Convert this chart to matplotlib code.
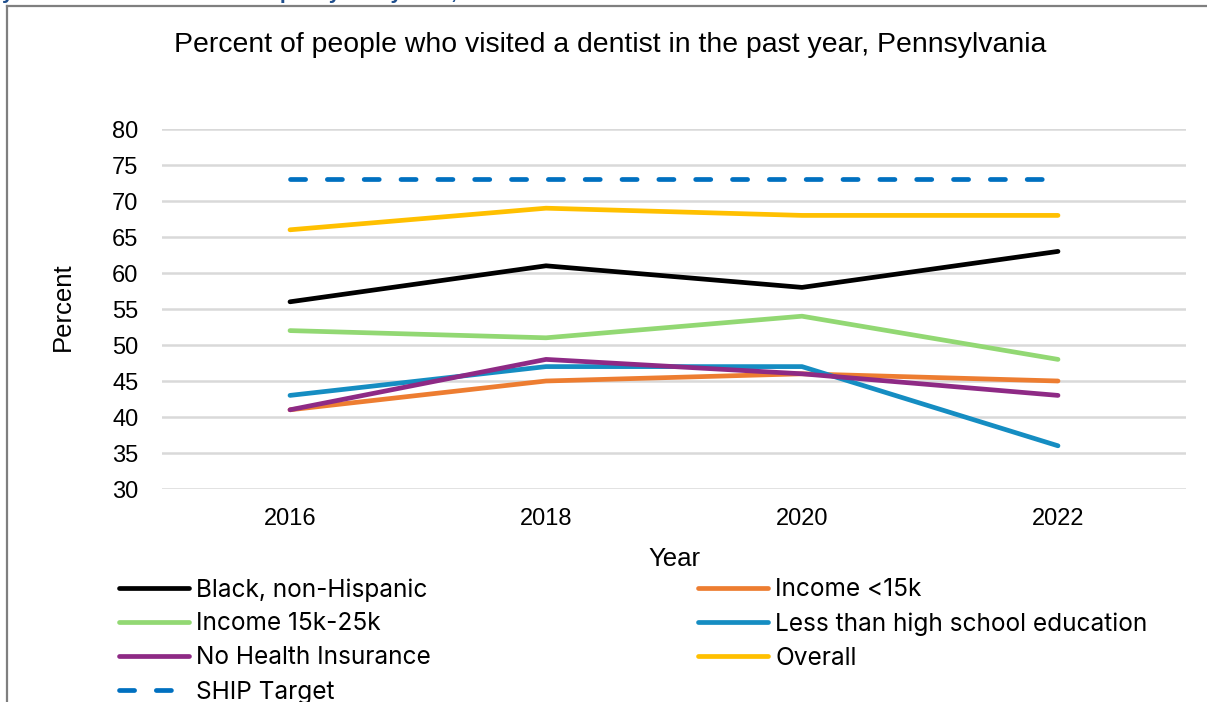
import matplotlib
matplotlib.use("Agg")
import matplotlib.pyplot as plt
from matplotlib.lines import Line2D

years = ["2016", "2018", "2020", "2022"]
black_nh = [56, 61, 58, 63]
income_lt15k = [41, 45, 46, 45]
income_15_25k = [52, 51, 54, 48]
less_than_hs = [43, 47, 47, 36]
no_insurance = [41, 48, 46, 43]
overall = [66, 69, 68, 68]
ship_target = [73, 73, 73, 73]

yticks = [30, 35, 40, 45, 50, 55, 60, 65, 70, 75, 80]

W, H = 1207, 702
fig = plt.figure(figsize=(W / 100, H / 100), dpi=100)
ax = fig.add_axes([162 / W, 1 - 489 / H, (1186 - 162) / W, (489 - 129) / H])

x = list(range(len(years)))
lw = 3.4
series = [
    ("Black, non-Hispanic", black_nh, "#000000", "-"),
    ("Income <15k", income_lt15k, "#ED7D31", "-"),
    ("Income 15k-25k", income_15_25k, "#92D873", "-"),
    ("Less than high school education", less_than_hs, "#158DC2", "-"),
    ("No Health Insurance", no_insurance, "#8E2A85", "-"),
    ("Overall", overall, "#FFC000", "-"),
    ("SHIP Target", ship_target, "#0070C0", "--"),
]
handles = {}
for name, vals, col, ls in series:
    if ls == "--":
        (ln,) = ax.plot(x, vals, color=col, lw=lw, dash_capstyle="round", solid_capstyle="round", zorder=3)
        ln.set_dashes([3.2, 4.6])
    else:
        (ln,) = ax.plot(x, vals, color=col, lw=lw, solid_capstyle="round", solid_joinstyle="round", zorder=3)
    handles[name] = ln

ax.set_xlim(-0.5, 3.5)
ax.set_ylim(30, 80)
ax.set_yticks(yticks)
ax.set_xticks(x)
ax.set_xticklabels(years)
ax.grid(axis="y", color="#D9D9D9", lw=1.8, zorder=0)
for s in ax.spines.values():
    s.set_visible(False)
ax.tick_params(length=0, labelsize=17, colors="#000000")
ax.tick_params(axis="y", pad=17)
ax.tick_params(axis="x", pad=14)
for lab in ax.get_xticklabels() + ax.get_yticklabels():
    lab.set_family("Liberation Sans")

fig.text(610 / W, 1 - 45.5 / H, "Percent of people who visited a dentist in the past year, Pennsylvania",
         ha="center", va="center", fontsize=20.4, family="Liberation Sans")
fig.text(674 / W, 1 - 559 / H, "Year", ha="center", va="center", fontsize=18.5, family="Liberation Sans")
fig.text(63 / W, 1 - 307 / H, "Percent", ha="center", va="center", rotation=90, fontsize=18.5, family="Liberation Sans")

order = ["Black, non-Hispanic", "Income 15k-25k", "No Health Insurance", "SHIP Target",
         "Income <15k", "Less than high school education", "Overall"]
leg = fig.legend([handles[n] for n in order], order, ncol=2, loc="upper left",
                 bbox_to_anchor=(119 / W, 1 - 578 / H), frameon=False,
                 prop={"family": "Inter", "size": 17.6}, handlelength=2.85, handletextpad=0.3,
                 labelspacing=0.45, columnspacing=10.95, borderaxespad=0, borderpad=0)

# outer frame
fig.add_artist(Line2D([7 / W, 1], [1 - 6 / H, 1 - 6 / H], color="#7F7F7F", lw=1.6))
fig.add_artist(Line2D([7 / W, 7 / W], [0, 1 - 6 / H], color="#7F7F7F", lw=1.6))
fig.text(2 / W, 1 + 1 / H, "year for dentist visits in the past year by race, income and insurance",
         ha="left", va="baseline", fontsize=15, fontweight="bold", color="#1F4E8C", family="Liberation Sans")

fig.savefig("out.png", dpi=100)
